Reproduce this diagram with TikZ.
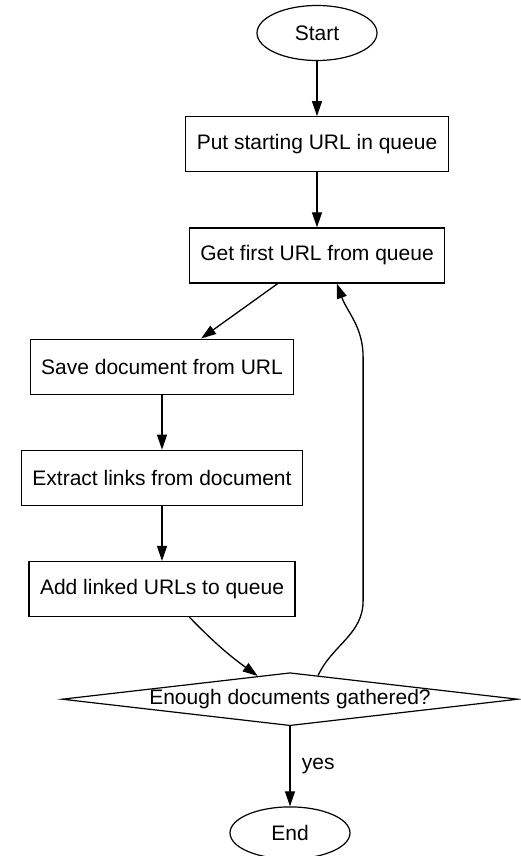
\documentclass[tikz,border=0pt]{standalone}
\usepackage{fontspec}
\setmainfont{Liberation Sans}
\usetikzlibrary{shapes.geometric, arrows.meta, positioning, calc}

\begin{document}
\begin{tikzpicture}[
    node distance=55pt,
    font=\fontsize{21}{25}\selectfont,
    box/.style={rectangle, draw, line width=1.2pt, minimum height=55pt, inner xsep=11pt},
    term/.style={ellipse, draw, line width=1.2pt, minimum width=120pt, minimum height=55pt, inner sep=0pt},
    decision/.style={diamond, draw, line width=1.2pt, aspect=8.6, minimum width=456pt, minimum height=53pt, inner sep=0pt},
    arrow/.style={-{Triangle[length=15pt, width=10pt]}, line width=1.3pt}
]
\useasboundingbox (0,0) rectangle (521pt,-856pt);

% Start
\node[term] (start) at (317pt,-33pt) {Start};

% Queue setup
\node[box, below=of start] (put) {Put starting URL in queue};
\node[box, below=of put] (get) {Get first URL from queue};

% Crawl steps
\node[box, below=of get, xshift=-155pt] (save) {Save document from URL};
\node[box, below=of save] (extract) {Extract links from document};
\node[box, below=of extract] (add) {Add linked URLs to queue};

% Decision
\node[decision, below=of add, xshift=128pt] (check) {Enough documents gathered?};

% End
\node[term, below=80pt of check, minimum height=52pt] (end) {End};

% Loop points
\coordinate (loopout) at ($(check.north)!0.123!(check.east)$);
\coordinate (loopin) at ($(get.south)!0.154!(get.south east)$);

% Arrows
\draw[arrow] (start) -- (put);
\draw[arrow] (put) -- (get);
\draw[arrow] (get) -- (save);
\draw[arrow] (save) -- (extract);
\draw[arrow] (extract) -- (add);
\draw[arrow] (add) to[bend right=5] (check);
\draw[arrow] (check) -- node[right, xshift=8pt] {yes} (end);
\draw[arrow] (loopout) to[out=65, in=-90] ++(45pt,75pt) -- ++(0,243pt) to[out=90, in=-70] (loopin);

\end{tikzpicture}
\end{document}
